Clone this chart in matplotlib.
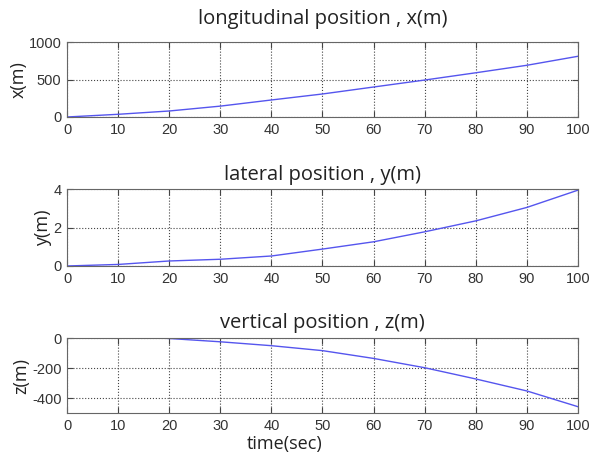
import matplotlib
matplotlib.use('Agg')
import matplotlib.pyplot as plt

plt.rcParams['font.family'] = 'Liberation Sans'
plt.rcParams['axes.unicode_minus'] = False

# time samples (sec)
t = [0, 10, 20, 30, 40, 50, 60, 70, 80, 90, 100]
# longitudinal position x(m)
x_pos = [0, 36, 80, 145, 227, 307, 400, 493, 590, 690, 810]
# lateral position y(m)
y_pos = [0, 0.08, 0.26, 0.35, 0.52, 0.88, 1.26, 1.78, 2.35, 3.05, 3.95]
# vertical position z(m), starts at t=18
t_z = [18, 20, 30, 40, 50, 60, 70, 80, 90, 100]
z_pos = [0, -3, -25, -51, -84, -136, -198, -273, -353, -458]

xticks = [0, 10, 20, 30, 40, 50, 60, 70, 80, 90, 100]

fig = plt.figure(figsize=(5.9, 4.57), dpi=100)

line_col = '#5555ee'
title_font = dict(family='Open Sans', size=14.5)
label_font = dict(family='Open Sans', size=13)

panels = [
    ([0.1136, 0.744, 0.866, 0.164], t, x_pos, (0, 1000), [0, 500, 1000],
     'longitudinal position , x(m)', 'x(m)', 13),
    ([0.1136, 0.418, 0.866, 0.168], t, y_pos, (0, 4), [0, 2, 4],
     'lateral position , y(m)', 'y(m)', 6.5),
    ([0.1136, 0.0963, 0.866, 0.164], t_z, z_pos, (-500, 0), [-400, -200, 0],
     'vertical position , z(m)', 'z(m)', 7),
]

for rect, tt, vals, ylim, yticks, title, ylab, tpad in panels:
    ax = fig.add_axes(rect)
    ax.plot(tt, vals, color=line_col, linewidth=1.0)
    ax.set_xlim(0, 100)
    ax.set_ylim(*ylim)
    ax.set_xticks(xticks)
    ax.set_yticks(yticks)
    ax.grid(True, linestyle=':', color='#444444', linewidth=0.8)
    ax.tick_params(direction='in', top=True, right=True, length=4,
                   labelsize=10.5, pad=4, colors='#444444', labelcolor='#333333')
    for s in ax.spines.values():
        s.set_color('#666666')
    ax.set_title(title, fontdict=title_font, pad=tpad, color='#222222')
    ax.set_ylabel(ylab, fontdict=label_font, labelpad=1, color='#222222')
    last = ax

last.set_xlabel('time(sec)', fontdict=label_font, labelpad=2, color='#222222')
last.xaxis.set_label_coords(0.425, -0.3)

fig.savefig('out.png', dpi=100)
